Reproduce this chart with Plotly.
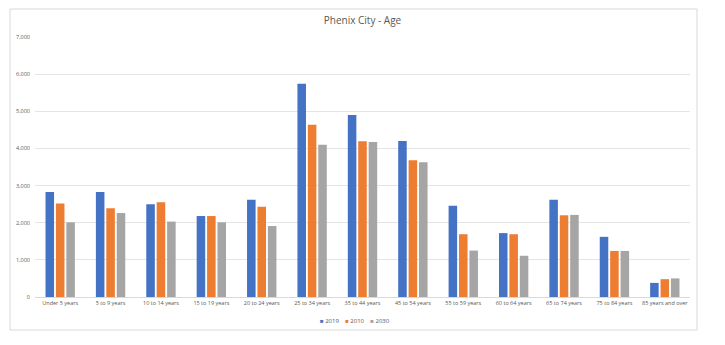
import plotly.graph_objects as go

categories = [
    "Under 5 years", "5 to 9 years", "10 to 14 years", "15 to 19 years",
    "20 to 24 years", "25 to 34 years", "35 to 44 years", "45 to 54 years",
    "55 to 59 years", "60 to 64 years", "65 to 74 years", "75 to 84 years",
    "85 years and over",
]
series_names = ["2019", "2010", "2030"]
values_2019 = [2830, 2830, 2500, 2180, 2620, 5740, 4900, 4200, 2460, 1720, 2620, 1620, 380]
values_2010 = [2520, 2390, 2550, 2180, 2430, 4640, 4190, 3680, 1690, 1690, 2200, 1240, 480]
values_2030 = [2010, 2260, 2030, 2010, 1910, 4100, 4170, 3630, 1250, 1110, 2210, 1240, 500]
colors = ["#4472C4", "#ED7D31", "#A5A5A5"]

W, H = 725, 345
L, R, T, B = 35, 35, 37, 48
pw, ph = W - L - R, H - T - B

fig = go.Figure()
for name, vals, col in zip(series_names, [values_2019, values_2010, values_2030], colors):
    fig.add_trace(go.Bar(x=categories, y=vals, name=name, marker_color=col,
                         marker_line_width=0, showlegend=False))

def px_x(p):
    return (p - L) / pw

def px_y(p):
    return (H - B - p) / ph

# compact legend row: coloured square followed by series name
legend_text = "&nbsp;&nbsp;&nbsp;&nbsp;".join(
    f"<span style='color:{c}'>■</span>&nbsp;{n}" for n, c in zip(series_names, colors)
)

fig.update_layout(
    width=W, height=H,
    margin=dict(l=L, r=R, t=T, b=B),
    paper_bgcolor="white", plot_bgcolor="white",
    barmode="group", bargap=0.38, bargroupgap=0.18,
    font=dict(family="Open Sans, Calibri, sans-serif", color="#595959", size=6),
    title=dict(text="Phenix City - Age", x=0.5, xanchor="center",
               y=1 - 20 / H, yanchor="middle",
               font=dict(size=10, color="#595959")),
    showlegend=False,
    annotations=[dict(text=legend_text, xref="paper", yref="paper",
                      x=px_x(355), y=px_y(321), xanchor="center", yanchor="middle",
                      showarrow=False, font=dict(size=6, color="#595959"))],
    xaxis=dict(showgrid=False, showline=True, linecolor="#d9d9d9", linewidth=1,
               ticks="", tickfont=dict(size=5.5, color="#595959"), tickangle=0),
    yaxis=dict(range=[0, 7000], dtick=1000, tickformat=",", showgrid=True,
               gridcolor="#e4e4e4", gridwidth=1, zeroline=False, showline=False,
               ticks="", tickfont=dict(size=5.5, color="#595959"), ticklabelstandoff=4),
    shapes=[dict(type="rect", xref="paper", yref="paper",
                 x0=px_x(10), x1=px_x(697), y0=px_y(330), y1=px_y(9),
                 line=dict(color="#d9d9d9", width=1), fillcolor="rgba(0,0,0,0)",
                 layer="below")],
)

fig.write_html("out.html")
